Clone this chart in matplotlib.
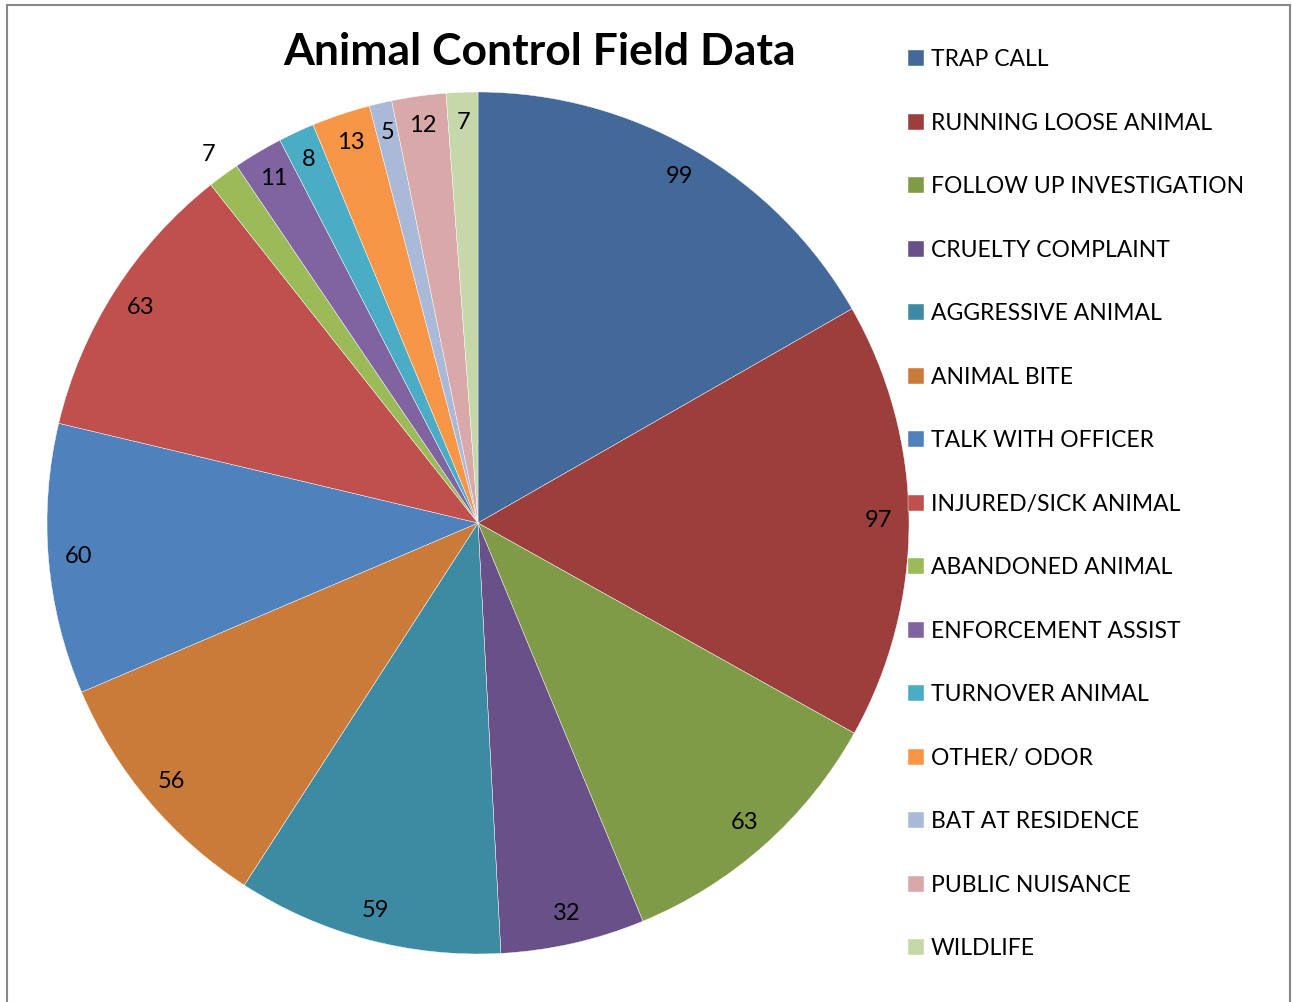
import matplotlib
matplotlib.use('Agg')
import matplotlib.pyplot as plt
from matplotlib.patches import Rectangle
import numpy as np

categories = ['TRAP CALL', 'RUNNING LOOSE ANIMAL', 'FOLLOW UP INVESTIGATION',
              'CRUELTY COMPLAINT', 'AGGRESSIVE ANIMAL', 'ANIMAL BITE',
              'TALK WITH OFFICER', 'INJURED/SICK ANIMAL', 'ABANDONED ANIMAL',
              'ENFORCEMENT ASSIST', 'TURNOVER ANIMAL', 'OTHER/ ODOR',
              'BAT AT RESIDENCE', 'PUBLIC NUISANCE', 'WILDLIFE']
counts = [99, 97, 63, 32, 59, 56, 60, 63, 7, 11, 8, 13, 5, 12, 7]
colors = ['#426999', '#9C3E3C', '#7F9B48', '#6A5088', '#3C8BA3', '#CB7B39',
          '#4F81BD', '#C0504D', '#9BBB59', '#8064A2', '#4BACC6', '#F79646',
          '#AAB9D8', '#D9A8A8', '#C6D8AA']

plt.rcParams['font.family'] = ['Lato', 'DejaVu Sans']

W, H = 1292, 1002
fig = plt.figure(figsize=(W / 100, H / 100), dpi=100)

# pie centre (478, 523), radius 431 px
cx, cy, r = 478, 523, 431
ax = fig.add_axes([(cx - r) / W, (H - cy - r) / H, 2 * r / W, 2 * r / H])

wedges, texts, autotexts = ax.pie(
    counts, colors=colors, startangle=90, counterclock=False,
    autopct=lambda p: '%d' % round(p * sum(counts) / 100),
    pctdistance=0.93, textprops={'fontsize': 17, 'color': 'black'},
    wedgeprops={'edgecolor': 'white', 'linewidth': 0.3})
ax.set_xlim(-1, 1)
ax.set_ylim(-1, 1)
ax.set_aspect('equal')

# the abandoned-animal label sits outside its slice
w = wedges[8]
ang = np.deg2rad((w.theta1 + w.theta2) / 2)
autotexts[8].set_position((1.06 * np.cos(ang), 1.06 * np.sin(ang)))

fig.text(540 / W, 1 - 52 / H, 'Animal Control Field Data', ha='center',
         va='center', fontsize=32, fontweight='bold')

fig.legend(wedges, categories, loc='upper left',
           bbox_to_anchor=(899 / W, 1 - 40 / H), frameon=False,
           fontsize=16.5, handlelength=0.68, handleheight=0.68,
           handletextpad=0.3, labelspacing=1.855, borderaxespad=0)

fig.patches.append(Rectangle((7 / W, -0.02), 1283 / W, 1.02 - 5 / H,
                             transform=fig.transFigure, fill=False,
                             edgecolor='#888888', linewidth=1.5))

plt.savefig('out.png', dpi=100)
